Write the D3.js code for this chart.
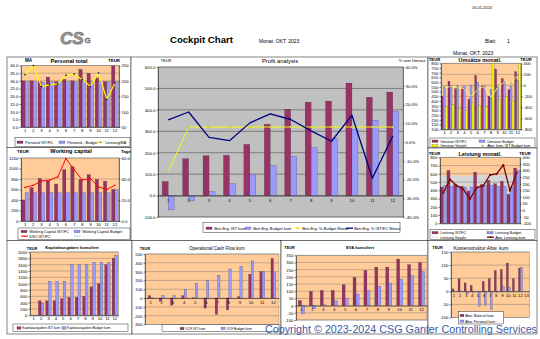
<!DOCTYPE html>
<html>
<head>
<meta charset="utf-8">
<script src="https://cdn.jsdelivr.net/npm/d3@7"></script>
<style>
  html, body { margin: 0; padding: 0; background: #fff; }
  svg { display: block; }
</style>
</head>
<body>
<svg id="cockpit" width="540" height="339"></svg>
<script>
// ---------- categories ----------
const months = ["1","2","3","4","5","6","7","8","9","10","11","12"];
const months13 = ["1","2","3","4","5","6","7","8","9","10","11","12","13"];

// ---------- Personal total ----------
const personalIst    = [30.0, 30.0, 29.5, 32.5, 29.5, 31.0, 30.0, 37.5, 35.0, 32.0, 29.5, 40.0];
const personalBudget = [29.5, 29.5, 29.0, 29.5, 29.5, 29.5, 29.5, 29.5, 29.5, 29.5, 29.5, 29.5];
const leistungProMA  = [220, 250, 182, 187, 190, 218, 222, 204, 182, 226, 140, 193];
const personalTicks  = [0, 5, 10, 15, 20, 25, 30, 35, 40];
const personalTicksR = [50, 100, 150, 200, 250];

// ---------- Working capital ----------
const wcIst    = [400, 635, 810, 760, 705, 980, 1035, 790, 885, 795, 760, 605];
const wcBudget = [540, 540, 540, 540, 540, 540, 540, 540, 540, 540, 540, 600];
const dsoIst   = [32, 34, 38, 39, 42, 59.5, 49, 39, 40.5, 32.5, 30, 34];
const wcTicks  = [0, 200, 400, 600, 800, 1000, 1200];
const wcTicksR = [0, 20, 40, 60];

// ---------- Profit analysis ----------
const profitIstKum    = [66, 172, 186, 188, 239, 333, 403, 436, 441, 525, 459, 483];
const profitBudgetKum = [-67, -25, 19, 56, 98, 141, 183, 225, 267, 309, 352, 394];
const profitPctBudget = [-15.9, 8, 8, 8, 8, 8, 8, 8, 8, 8, 8, 8];
const profitPctIst    = [11.8, 16.0, 2.5, 0.7, 10.2, 15.0, 12.0, 5.9, 0.4, 14.3, -19.3, 3.2];
const profitTicks  = [-100, 0, 100, 200, 300, 400, 500, 600];
const profitTicksR = [-40, -30, -20, -10, 0, 10, 20, 30, 40];

// ---------- Umsätze monatl. ----------
const umsatzIst     = [450, 610, 530, 540, 420, 670, 560, 450, 740, 640, 520, 710];
const umsatzBudget  = [550, 560, 560, 560, 570, 600, 560, 520, 560, 600, 560, 620];
const umsatzVorjahr = [340, 360, 320, 300, 380, 350, 340, 800, 420, 450, 400, 800];
const umsatzAbwKum  = [-50, -20, -40, -60, -200, -80, -20, -220, -40, 60, 40, 180];
const umsatzTicks  = [100, 150, 200, 250, 300, 350, 400, 450, 500, 550, 600, 650, 700, 750, 800];
const umsatzTicksR = [-800, -600, -400, -200, 0, 200, 400];

// ---------- Leistung monatl. ----------
const leistungIst     = [440, 640, 470, 450, 390, 620, 470, 520, 480, 510, 350, 670];
const leistungBudget  = [460, 450, 440, 440, 440, 440, 460, 460, 450, 450, 440, 640];
const leistungVorjahr = [575, 580, 575, 570, 575, 580, 585, 590, 590, 585, 580, 590];
const leistungAbwKum  = [132, 233, 185, 158, 84, 170, 185, 266, 274, 342, 147, 284];
const leistungTicks  = [0, 100, 200, 300, 400, 500, 600, 700, 800];
const leistungTicksR = [-100, -50, 0, 50, 100, 150, 200, 250, 300, 350, 400];

// ---------- Kapitalausgaben kumuliert ----------
const capexIstKum    = [0, 460, 460, 460, 530, 570, 570, 600, 900, 1000, 1600, 1800];
const capexBudgetKum = [0, 380, 1080, 1080, 1080, 1600, 1600, 1600, 1680, 1680, 1680, 1900];
const capexTicks = [0, 200, 400, 600, 800, 1000, 1200, 1400, 1600, 1800, 2000];

// ---------- Operational Cash Flow kum ----------
const ocfIstKum    = [27, -38, -80, 27, 3, -115, -185, -135, 15, 270, 300, 450];
const ocfBudgetKum = [2, 30, 30, 96, 170, 196, 258, 330, 362, 423, 300, 296];
const ocfTicks = [-300, -200, -100, 0, 100, 200, 300, 400, 500];

// ---------- EVA kumuliert ----------
const evaIstKum    = [35, 100, 106, 106, 146, 197, 245, 268, 268, 324, 285, 300];
const evaBudgetKum = [-58, -23, 5, 35, 53, 81, 104, 134, 157, 185, 210, 238];
const evaTicks = [-100, -50, 0, 50, 100, 150, 200, 250, 300, 350];

// ---------- Kostenstruktur Abw. kum ----------
const abwMaterialKum = [9, 48, 32, 23, 0, 38, 48, 79, 83, 108, 48, 89, 0];
const abwPersonalKum = [0, -2, -10, -3, -57, -55, -70, -3, 19, 15, 0, 92, 0];
const kostenTicks = [-100, -50, 0, 50, 100, 150];

// ---------- styling ----------
const FONT = '"Liberation Sans", Arial, Helvetica, sans-serif';
const COL = {
  maroon: "#993366", purple: "#9999FF", orange: "#FFCC99", gray: "#C0C0C0",
  yellow: "#FFFF00", navy: "#000080", red: "#FF0000", darkred: "#800000"
};
const TICK = 4.3;

const svg = d3.select("#cockpit");
let clipCounter = 0;

function label(x, y, s, size, opt = {}) {
  return svg.append("text")
    .attr("x", x).attr("y", y)
    .attr("font-size", size).attr("font-family", FONT)
    .attr("text-anchor", opt.anchor || "start")
    .attr("font-weight", opt.bold ? "bold" : null)
    .attr("font-style", opt.italic ? "italic" : null)
    .attr("fill", opt.color || "#000")
    .text(s);
}

function panel(x0, y0, x1, y1) {
  svg.append("rect").attr("x", x0).attr("y", y0).attr("width", x1 - x0).attr("height", y1 - y0)
    .attr("fill", "#fff").attr("stroke", "#333").attr("stroke-width", 0.6);
}

function styleAxis(g) {
  g.attr("font-size", TICK).attr("font-family", FONT);
  g.select(".domain").attr("stroke", "#000").attr("stroke-width", 0.5);
  g.selectAll(".tick line").attr("stroke", "#000").attr("stroke-width", 0.5);
  g.selectAll(".tick text").attr("fill", "#000");
}

function marker(g, shape, cx, cy, size, fill, stroke) {
  if (shape === "circle") {
    g.append("circle").attr("cx", cx).attr("cy", cy).attr("r", size / 2)
      .attr("fill", fill).attr("stroke", stroke || "none").attr("stroke-width", 0.4);
  } else if (shape === "diamond") {
    const s = size / 2;
    g.append("path").attr("d", `M${cx},${cy - s}L${cx + s},${cy}L${cx},${cy + s}L${cx - s},${cy}Z`)
      .attr("fill", fill).attr("stroke", stroke || "none").attr("stroke-width", 0.3);
  } else {
    g.append("rect").attr("x", cx - size / 2).attr("y", cy - size / 2).attr("width", size).attr("height", size)
      .attr("fill", fill).attr("stroke", stroke || "none").attr("stroke-width", 0.3);
  }
}

// Generic Excel-style combo chart: clustered bars, optional area, lines on two axes
function chart(o) {
  const g = svg.append("g");
  const x = d3.scaleBand().domain(o.cats).range([o.x0, o.x1]);
  const yL = d3.scaleLinear().domain(o.left.domain).range([o.y1, o.y0]);
  const yR = o.right ? d3.scaleLinear().domain(o.right.domain).range([o.y1, o.y0]) : null;
  const cid = "plotclip" + (clipCounter++);
  svg.append("clipPath").attr("id", cid).append("rect")
    .attr("x", o.x0).attr("y", o.y0).attr("width", o.x1 - o.x0).attr("height", o.y1 - o.y0);

  g.append("rect").attr("x", o.x0).attr("y", o.y0).attr("width", o.x1 - o.x0).attr("height", o.y1 - o.y0)
    .attr("fill", o.bg).attr("stroke", "#808080").attr("stroke-width", 0.5);

  const inner = g.append("g").attr("clip-path", `url(#${cid})`);
  const baseOf = sc => { const d = sc.domain(); return Math.max(d[0], Math.min(d[1], 0)); };
  const cx = j => x(o.cats[j]) + x.bandwidth() / 2;

  (o.areas || []).forEach(a => {
    const sc = a.right ? yR : yL;
    const pts = a.data.map((d, j) => [cx(j), sc(d)]);
    pts.unshift([o.x0, sc(a.data[0])]);
    pts.push([o.x1, sc(a.data[a.data.length - 1])]);
    const b = sc(baseOf(sc));
    inner.append("path")
      .attr("d", d3.area().x(p => p[0]).y0(b).y1(p => p[1])(pts))
      .attr("fill", a.color);
  });

  const gs = o.gridRight ? yR : yL;
  const gt = o.gridRight ? o.right.ticks : o.left.ticks;
  g.append("g").selectAll("line").data(gt).join("line")
    .attr("x1", o.x0).attr("x2", o.x1)
    .attr("y1", d => gs(d)).attr("y2", d => gs(d))
    .attr("stroke", o.gridColor || "#6a6a6a").attr("stroke-width", 0.4);

  const nb = o.bars.length;
  const gw = x.bandwidth() / (1 + o.gap);
  const bw = gw / nb;
  const barLayer = g.append("g").attr("clip-path", `url(#${cid})`);
  o.bars.forEach((s, i) => {
    const sc = s.right ? yR : yL;
    const b = sc(baseOf(sc));
    barLayer.append("g").selectAll("rect").data(s.data).join("rect")
      .attr("x", (d, j) => x(o.cats[j]) + (x.bandwidth() - gw) / 2 + i * bw)
      .attr("width", bw)
      .attr("y", d => Math.min(sc(d), b))
      .attr("height", d => Math.abs(sc(d) - b))
      .attr("fill", s.color)
      .attr("stroke", "#2a2a2a").attr("stroke-width", d => d === 0 ? 0 : 0.2);
  });

  // category axis
  const xAxisY = o.xAtZero ? yL(0) : o.y1;
  const xa = g.append("g").attr("transform", `translate(0,${xAxisY})`)
    .call(d3.axisBottom(x).tickSize(0).tickPadding(o.xPad || 2).tickFormat(o.noXLabels ? "" : d => d));
  styleAxis(xa);

  const lineLayer = g.append("g");
  (o.lines || []).forEach(l => {
    const sc = l.right ? yR : yL;
    const pts = l.data.map((d, j) => [cx(j), sc(d)]);
    lineLayer.append("path").attr("d", d3.line()(pts))
      .attr("fill", "none").attr("stroke", l.color).attr("stroke-width", l.width || 1)
      .attr("stroke-linejoin", "round");
    if (l.marker) pts.forEach(p => marker(lineLayer, l.marker, p[0], p[1], l.msize || 1.6, l.mfill, l.mstroke));
  });

  const la = g.append("g").attr("transform", `translate(${o.x0},0)`)
    .call(d3.axisLeft(yL).tickValues(o.left.ticks).tickFormat(o.left.fmt || (d => d))
      .tickSize(1.5).tickSizeOuter(0).tickPadding(1));
  styleAxis(la);
  if (o.right) {
    const ra = g.append("g").attr("transform", `translate(${o.x1},0)`)
      .call(d3.axisRight(yR).tickValues(o.right.ticks).tickFormat(o.right.fmt || (d => d))
        .tickSize(1.5).tickSizeOuter(0).tickPadding(1));
    styleAxis(ra);
  }
  return { x, yL, yR };
}

function legendBox(x0, y0, x1, y1) {
  svg.append("rect").attr("x", x0).attr("y", y0).attr("width", x1 - x0).attr("height", y1 - y0)
    .attr("fill", "#fff").attr("stroke", "#000").attr("stroke-width", 0.4);
}

function legendItem(x, y, type, color, text, opt = {}) {
  const size = opt.size || 3.9;
  if (type === "bar") {
    svg.append("rect").attr("x", x).attr("y", y - 2).attr("width", opt.sw || 6).attr("height", 2.4)
      .attr("fill", color).attr("stroke", "#222").attr("stroke-width", 0.25);
  } else {
    svg.append("line").attr("x1", x).attr("x2", x + (opt.sw || 7)).attr("y1", y - 0.8).attr("y2", y - 0.8)
      .attr("stroke", color).attr("stroke-width", opt.w || 1).attr("stroke-dasharray", opt.dash || null);
    if (opt.marker) marker(svg, opt.marker, x + (opt.sw || 7) / 2, y - 0.8, 1.6, opt.mfill, opt.mstroke);
  }
  if (text) label(x + (opt.sw || 7) + 1.2, y + 0.6, text, size);
}

// ---------- header ----------
label(472, 8.5, "16.01.2024", 4);
// CSG logo lettering
label(60.8, 44.8, "CS", 17, { bold: true, italic: true, color: "#d8d8d8" });
label(60, 44, "CS", 17, { bold: true, italic: true, color: "#9c9c9c" })
  .attr("stroke", "#5e5e5e").attr("stroke-width", 0.5);
label(84.5, 43, "G", 8, { bold: true, color: "#8a8a8a" }).attr("stroke", "#555").attr("stroke-width", 0.3);
label(170, 43, "Cockpit Chart", 9.6, { bold: true });
label(259, 42.5, "Monat: OKT. 2023", 5);
label(485, 42.5, "Blatt:", 5);
label(507, 42.5, "1", 5);
label(453, 54.5, "Monat: OKT. 2023", 5);

// ---------- panel frames ----------
panel(7, 57, 131, 147.5);
panel(7, 147.5, 131, 240.5);
panel(131, 57, 428, 240.5);
panel(428, 57, 537, 148);
panel(428, 148, 537, 240.5);
panel(7, 240.5, 132, 334);
panel(132, 240.5, 281, 334);
panel(281, 240.5, 428, 334);
panel(428, 240.5, 537, 334);

// ---------- Personal total ----------
chart({
  x0: 21, x1: 119, y0: 65.5, y1: 127, cats: months, bg: COL.orange, gap: 0.2,
  left: { domain: [0, 40], ticks: personalTicks, fmt: d => d.toFixed(1) },
  right: { domain: [50, 250], ticks: personalTicksR },
  bars: [{ data: personalIst, color: COL.maroon }, { data: personalBudget, color: COL.purple }],
  lines: [{ data: leistungProMA, right: true, color: COL.yellow, width: 1.2, marker: "diamond", msize: 2, mfill: COL.navy }]
});
label(28.5, 62, "MA", 4.6, { bold: true, anchor: "middle" });
label(69, 62.5, "Personal total", 5.6, { bold: true, anchor: "middle" });
label(114, 62, "TEUR", 4.4, { bold: true, anchor: "middle" });
legendBox(15, 137.5, 130, 146.5);
legendItem(17, 143, "bar", COL.maroon, "Personal IST/FC", { size: 3.8 });
legendItem(59, 143, "bar", COL.purple, "Personal - Budget", { size: 3.8 });
legendItem(97, 143, "line", COL.yellow, "Leistung/MA", { size: 3.8, w: 1.2, marker: "diamond", mfill: COL.navy });

// ---------- Working capital ----------
chart({
  x0: 21, x1: 119, y0: 158, y1: 221, cats: months, bg: COL.orange, gap: 0.22, gridRight: true,
  left: { domain: [0, 1200], ticks: wcTicks },
  right: { domain: [0, 60], ticks: wcTicksR, fmt: d => d.toFixed(1) },
  bars: [{ data: wcIst, color: COL.maroon }, { data: wcBudget, color: COL.purple }],
  lines: [{ data: dsoIst, right: true, color: COL.red, width: 1, marker: "diamond", msize: 2, mfill: COL.red }]
});
label(23, 152.5, "TEUR", 4.4, { bold: true, anchor: "middle" });
label(71, 153, "Working capital", 5.6, { bold: true, anchor: "middle" });
label(126, 152.5, "Tage", 4.4, { bold: true, anchor: "middle" });
legendBox(18, 228, 130, 239.5);
legendItem(21, 232.3, "bar", COL.maroon, "Working Capital IST/FC", { size: 3.8 });
legendItem(74, 232.3, "bar", COL.purple, "Working Capital Budget", { size: 3.8 });
legendItem(21, 237, "line", COL.red, "DSO IST/FC", { size: 3.8, marker: "diamond", mfill: COL.red });
legendItem(74, 237, "line", "#33CCCC", "", { dash: "1.5,1", w: 0.8 });

// ---------- Profit analysis ----------
chart({
  x0: 158, x1: 403, y0: 67, y1: 217, cats: months, bg: COL.gray, gap: 0.7, xAtZero: true, xPad: 3,
  gridColor: "#1a1a1a",
  left: { domain: [-100, 600], ticks: profitTicks, fmt: d => d.toFixed(1) },
  right: { domain: [-40, 40], ticks: profitTicksR, fmt: d => d.toFixed(1) + "%" },
  bars: [{ data: profitIstKum, color: COL.maroon }, { data: profitBudgetKum, color: COL.purple }],
  lines: [
    { data: profitPctBudget, right: true, color: COL.yellow, width: 0.9, marker: "circle", msize: 2, mfill: "#FFFF99", mstroke: "#8a8a00" },
    { data: profitPctIst, right: true, color: COL.navy, width: 1.3 }
  ]
});
label(166, 61.5, "TEUR", 4, { anchor: "middle" });
label(280, 62.5, "Profit analysis", 5.8, { anchor: "middle" });
label(412, 61.5, "% vom Umsatz", 4, { anchor: "middle" });
legendBox(203, 222.5, 400, 232.5);
legendItem(206, 229, "bar", COL.maroon, "Betr.Erg. IST kum", { size: 4 });
legendItem(245, 229, "bar", COL.purple, "Betr.Erg. Budget kum", { size: 4 });
legendItem(294, 229, "line", COL.yellow, "Betr.Erg. % Budget Monat", { size: 4, marker: "circle", mfill: "#FFFF99", mstroke: "#8a8a00" });
legendItem(346, 229, "line", COL.navy, "Betr.Erg. % IST/FC Monat", { size: 4, w: 1.3 });

// ---------- Umsätze monatl. ----------
chart({
  x0: 441, x1: 521, y0: 63.3, y1: 129.3, cats: months, bg: COL.orange, gap: 0.1, gridRight: true,
  left: { domain: [100, 800], ticks: umsatzTicks },
  right: { domain: [-800, 400], ticks: umsatzTicksR },
  bars: [{ data: umsatzIst, color: COL.maroon }, { data: umsatzBudget, color: COL.purple }, { data: umsatzVorjahr, color: COL.yellow }],
  lines: [{ data: umsatzAbwKum, right: true, color: "#FFFF66", width: 0.9, marker: "square", msize: 1.3, mfill: "#8888BB" }]
});
label(434.5, 60.5, "TEUR", 4.2, { bold: true, anchor: "middle" });
label(480, 61.5, "Umsätze monatl.", 5.4, { bold: true, anchor: "middle" });
label(526, 60.5, "TEUR", 4.2, { bold: true, anchor: "middle" });
legendBox(430, 138, 535, 147.5);
legendItem(432, 142, "bar", COL.maroon, "Umsätze IST/FC", { size: 3.6 });
legendItem(479, 142, "bar", COL.purple, "Umsätze Budget", { size: 3.6 });
legendItem(432, 146.5, "bar", COL.yellow, "Umsätze Vorjahr", { size: 3.6 });
legendItem(479, 146.5, "line", "#FFFF66", "Abw. kum. IST Budget kum", { size: 3.6, marker: "square", mfill: "#8888BB" });

// ---------- Leistung monatl. ----------
chart({
  x0: 440, x1: 520, y0: 157.3, y1: 223.3, cats: months, bg: COL.orange, gap: 0.1, noXLabels: true,
  left: { domain: [0, 800], ticks: leistungTicks },
  right: { domain: [-100, 400], ticks: leistungTicksR },
  areas: [{ data: leistungVorjahr, color: "#D6D6D6" }],
  bars: [{ data: leistungIst, color: COL.maroon }, { data: leistungBudget, color: COL.purple }],
  lines: [{ data: leistungAbwKum, right: true, color: COL.darkred, width: 1.3, marker: "square", msize: 1.8, mfill: COL.darkred }]
});
label(434.5, 154.5, "TEUR", 4.2, { bold: true, anchor: "middle" });
label(480, 156, "Leistung monatl.", 5.4, { bold: true, anchor: "middle" });
label(525, 154.5, "TEUR", 4.2, { bold: true, anchor: "middle" });
legendBox(430, 229.5, 535, 239.5);
legendItem(432, 233.5, "bar", COL.maroon, "Leistung IST/FC", { size: 3.6 });
legendItem(487, 233.5, "bar", COL.purple, "Leistung Budget", { size: 3.6 });
legendItem(432, 238, "line", "#E6E6E6", "Leistung Vorjahr", { size: 3.6, w: 1.2 });
legendItem(487, 238, "line", COL.darkred, "Abw. Leistung kum.", { size: 3.6, w: 1.3, marker: "square", mfill: COL.darkred });

// ---------- Kapitalausgaben kumuliert ----------
chart({
  x0: 30, x1: 118.5, y0: 252, y1: 315.3, cats: months, bg: COL.orange, gap: 0.37,
  left: { domain: [0, 2000], ticks: capexTicks },
  bars: [{ data: capexIstKum, color: COL.maroon }, { data: capexBudgetKum, color: COL.purple }]
});
label(32, 249.5, "TEUR", 3.8, { bold: true, anchor: "middle" });
label(72, 248.5, "Kapitalausgaben kumuliert", 4.2, { bold: true, anchor: "middle" });
legendBox(13, 324, 128, 331.5);
legendItem(17, 328.8, "bar", COL.maroon, "Kapitalausgaben IST kum", { size: 3.3, sw: 4 });
legendItem(62, 328.8, "bar", COL.purple, "Kapitalausgaben Budget kum", { size: 3.3, sw: 4 });

// ---------- Operational Cash Flow kum ----------
chart({
  x0: 145, x1: 279, y0: 254, y1: 324.5, cats: months, bg: COL.orange, gap: 1.3, xAtZero: true, xPad: 2.5,
  left: { domain: [-300, 500], ticks: ocfTicks },
  bars: [{ data: ocfIstKum, color: COL.maroon }, { data: ocfBudgetKum, color: COL.purple }]
});
label(145, 249.5, "TEUR", 3.8, { bold: true, anchor: "middle" });
label(217, 249.5, "Operational Cash Flow kum", 4.5, { anchor: "middle" });
legendBox(162, 324.5, 279, 331.5);
legendItem(180, 329.3, "bar", COL.maroon, "OCF IST kum", { size: 3.3, sw: 4 });
legendItem(221, 329.3, "bar", COL.purple, "OCF Budget kum", { size: 3.3, sw: 4 });

// ---------- EVA kumuliert ----------
chart({
  x0: 296, x1: 427, y0: 255.3, y1: 320, cats: months, bg: COL.orange, gap: 0.8, xAtZero: true, xPad: 2.5,
  left: { domain: [-100, 350], ticks: evaTicks },
  bars: [{ data: evaIstKum, color: COL.maroon }, { data: evaBudgetKum, color: COL.purple }]
});
label(289.5, 248.5, "TEUR", 3.8, { bold: true, anchor: "middle" });
label(360, 249, "EVA kumuliert", 4.2, { bold: true, anchor: "middle" });

// ---------- Kostenstruktur Abw. kum ----------
chart({
  x0: 451, x1: 529.5, y0: 252, y1: 317.5, cats: months13, bg: COL.orange, gap: 0.5, xAtZero: true, xPad: 2.5,
  left: { domain: [-100, 150], ticks: kostenTicks },
  bars: [{ data: abwMaterialKum, color: COL.maroon }, { data: abwPersonalKum, color: COL.purple }]
});
label(437.5, 248.5, "TEUR", 3.8, { bold: true, anchor: "middle" });
label(481, 250, "Kostenstruktur  Abw. kum", 5, { anchor: "middle" });
legendBox(458.5, 311.5, 503.5, 324);
legendItem(460, 316.3, "bar", COL.maroon, "Abw. Material kum", { size: 3.5, sw: 4 });
legendItem(460, 322, "bar", COL.purple, "Abw. Personal kum", { size: 3.5, sw: 4 });

// ---------- footer ----------
label(265, 332.5, "Copyright \u00A9 2023-2024 CSG Ganter Controlling Services", 10.6, { color: "#3B5BA5" })
  .attr("textLength", 272).attr("lengthAdjust", "spacingAndGlyphs");
</script>
</body>
</html>
